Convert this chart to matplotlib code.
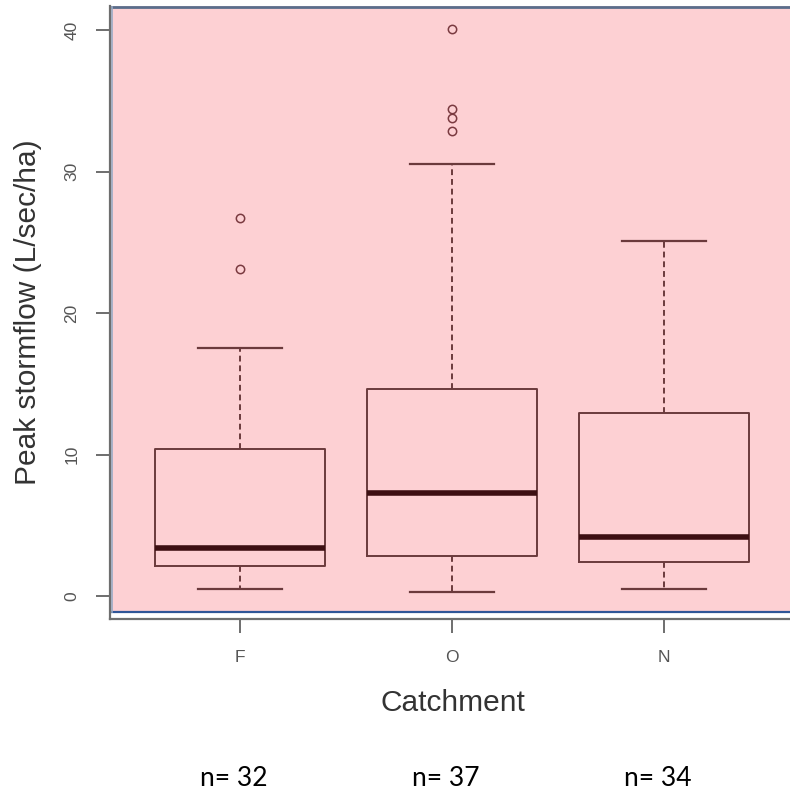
import matplotlib
matplotlib.use("Agg")
import matplotlib.pyplot as plt
from matplotlib.patches import Rectangle

# box statistics (L/sec/ha)
catchments = ["F", "O", "N"]
counts = [32, 37, 34]
whislo = [0.5, 0.3, 0.5]
q1 = [2.1, 2.8, 2.4]
med = [3.4, 7.3, 4.2]
q3 = [10.4, 14.6, 12.9]
whishi = [17.5, 30.5, 25.1]
fliers = [[23.1, 26.7], [32.9, 33.8, 34.4, 40.1], []]

stats = []
for i in range(len(catchments)):
    stats.append(dict(whislo=whislo[i], q1=q1[i], med=med[i], q3=q3[i],
                      whishi=whishi[i], fliers=fliers[i], label=catchments[i]))

W, H = 790, 794
fig = plt.figure(figsize=(W / 100, H / 100), dpi=100)
fig.patch.set_facecolor("white")

# plot region in pixels
left, right, top, bottom = 110, 790, 6, 619
ax = fig.add_axes([left / W, (H - bottom) / H, (right - left) / W, (bottom - top) / H])
ax.set_facecolor("white")
ax.set_xlim(0.387, 3.594)
ax.set_ylim(-1.625, 41.7)

# pink panel behind the boxes
pink = Rectangle((0.396, -1.13), 3.3, 43.0, facecolor="#fdd0d3",
                 edgecolor="none", zorder=0)
ax.add_patch(pink)
ax.plot([0.396, 3.7], [-1.13, -1.13], color="#2f5597", lw=1.6, zorder=1,
        clip_on=False)
ax.plot([0.396, 3.7], [41.6, 41.6], color="#5a6e8c", lw=2.0, zorder=1,
        clip_on=False)
ax.plot([0.396, 0.396], [-1.13, 41.6], color="#9aaac4", lw=1.2, zorder=1,
        clip_on=False)

boxcol = "#6b3a3c"
ax.bxp(stats, positions=[1, 2, 3], widths=0.8, showfliers=True,
       boxprops=dict(color=boxcol, lw=1.4),
       whiskerprops=dict(color=boxcol, lw=1.4, linestyle=(0, (3, 2))),
       capprops=dict(color=boxcol, lw=1.6),
       capwidths=0.4,
       medianprops=dict(color="#3d0f12", lw=4),
       flierprops=dict(marker="o", markersize=6, markerfacecolor="none",
                       markeredgecolor="#7a3a40", markeredgewidth=1.1),
       zorder=2)

for s in ["top", "right"]:
    ax.spines[s].set_visible(False)
for s in ["left", "bottom"]:
    ax.spines[s].set_color("#6e6e6e")
    ax.spines[s].set_linewidth(1.6)

ax.set_yticks([0, 10, 20, 30, 40])
ax.set_xticks([1, 2, 3])
ax.set_xticklabels(catchments)
ax.tick_params(axis="both", colors="#6e6e6e", labelcolor="#555555",
               length=10, width=1.4, labelsize=12.5, pad=12)
for t in ax.get_yticklabels():
    t.set_rotation(90)
    t.set_va("center")
for t in ax.get_xticklabels():
    t.set_fontfamily("Liberation Sans")
for t in ax.get_yticklabels():
    t.set_fontfamily("Liberation Sans")

ax.set_ylabel("Peak stormflow (L/sec/ha)", fontsize=21.5, color="#333333",
              family="Liberation Sans")
ax.yaxis.label.set_va("center")
ax.yaxis.set_label_coords(-0.1206, 0.5008)
ax.set_xlabel("Catchment", fontsize=21.5, color="#333333",
              family="Liberation Sans")
ax.xaxis.label.set_va("center")
ax.xaxis.set_label_coords(0.504, -0.137)

for i, n in enumerate(counts):
    ax.text(i + 1 - 0.03, -0.2594, "n= %d" % n, transform=ax.get_xaxis_transform(),
            ha="center", va="center", fontsize=19, family="Lato", color="black")

fig.savefig("out.png", dpi=100)
